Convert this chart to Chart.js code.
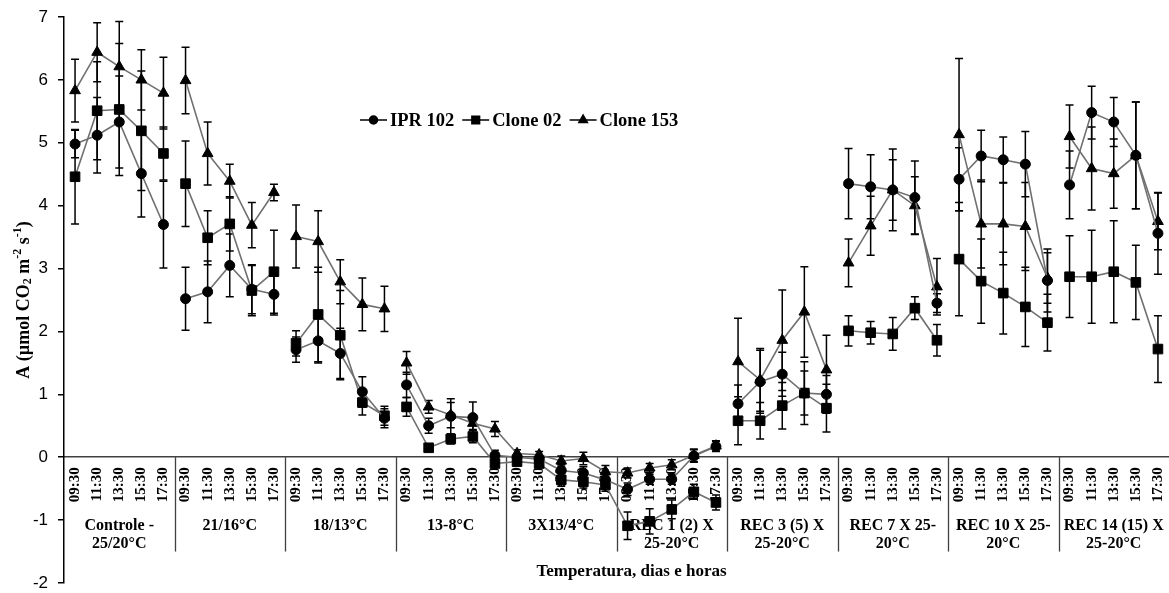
<!DOCTYPE html>
<html><head><meta charset="utf-8">
<script src="https://cdn.jsdelivr.net/npm/chart.js@4"></script>
<style>html,body{margin:0;padding:0;background:#fff;overflow:hidden}</style>
</head><body>
<canvas id="c" width="1169" height="593"></canvas>
<script>
const timeLabels = ['09:30','11:30','13:30','15:30','17:30'];
const groupLabels = [
  ['Controle -','25/20°C'], ['21/16°C'], ['18/13°C'], ['13-8°C'], ['3X13/4°C'],
  ['REC 1 (2) X','25-20°C'], ['REC 3 (5) X','25-20°C'], ['REC 7 X 25-','20°C'],
  ['REC 10 X 25-','20°C'], ['REC 14 (15) X','25-20°C']
];
const yTicks = [-2,-1,0,1,2,3,4,5,6,7];
const seriesNames = ['IPR 102','Clone 02','Clone 153'];
// line is interrupted after these point indices
const lineBreaksAfter = [4, 9, 14, 29, 34, 39, 44];

const ipr102 = [
  4.98, 5.12, 5.33, 4.51, 3.70,
  2.52, 2.63, 3.05, 2.67, 2.59,
  1.71, 1.85, 1.65, 1.04, 0.62,
  1.15, 0.50, 0.65, 0.63, 0.03,
  0.00, -0.03, -0.21, -0.25, -0.36,
  -0.51, -0.35, -0.35, 0.02, 0.17,
  0.85, 1.20, 1.32, 1.02, 1.00,
  4.35, 4.30, 4.25, 4.13, 2.45,
  4.42, 4.79, 4.73, 4.66, 2.81,
  4.33, 5.48, 5.33, 4.80, 3.56
];
const ipr102Err = [
  0.22, 0.60, 0.73, 0.69, 0.69,
  0.50, 0.49, 0.50, 0.39, 0.33,
  0.20, 0.35, 0.40, 0.24, 0.15,
  0.20, 0.12, 0.28, 0.25, 0.08,
  0.05, 0.05, 0.10, 0.10, 0.08,
  0.10, 0.08, 0.08, 0.10, 0.08,
  0.30, 0.50, 0.35, 0.35, 0.30,
  0.56, 0.51, 0.65, 0.58, 0.15,
  0.50, 0.41, 0.36, 0.52, 0.50,
  0.54, 0.42, 0.39, 0.85, 0.65
];
const clone02 = [
  4.46, 5.51, 5.53, 5.19, 4.83,
  4.35, 3.49, 3.71, 2.65, 2.95,
  1.81, 2.27, 1.94, 0.87, 0.66,
  0.80, 0.15, 0.29, 0.33, -0.10,
  -0.07, -0.10, -0.36, -0.39, -0.44,
  -1.09, -1.02, -0.83, -0.55, -0.72,
  0.58, 0.58, 0.82, 1.02, 0.78,
  2.01, 1.98, 1.96, 2.37, 1.86,
  3.15, 2.80, 2.61, 2.39, 2.14,
  2.87, 2.87, 2.95, 2.78, 1.72
];
const clone02Err = [
  0.75, 0.78, 1.05, 0.95, 0.42,
  0.68, 0.43, 0.43, 0.40, 0.66,
  0.20, 0.75, 0.71, 0.20, 0.15,
  0.15, 0.06, 0.08, 0.10, 0.05,
  0.05, 0.06, 0.10, 0.10, 0.10,
  0.22, 0.20, 0.15, 0.12, 0.12,
  0.38, 0.29, 0.37, 0.50, 0.38,
  0.24, 0.18, 0.26, 0.18, 0.25,
  0.90, 0.67, 0.65, 0.63, 0.45,
  0.65, 0.74, 0.81, 0.59, 0.53
];
const clone153 = [
  5.83, 6.44, 6.21, 6.00, 5.79,
  5.99, 4.83, 4.39, 3.69, 4.21,
  3.51, 3.43, 2.79, 2.43, 2.36,
  1.50, 0.80, 0.67, 0.54, 0.45,
  0.06, 0.04, -0.06, -0.02, -0.23,
  -0.25, -0.17, -0.12, 0.03, 0.18,
  1.52, 1.23, 1.86, 2.31, 1.39,
  3.09, 3.68, 4.25, 4.00, 2.71,
  5.13, 3.71, 3.71, 3.67, 2.85,
  5.10, 4.59, 4.51, 4.80, 3.75
];
const clone153Err = [
  0.50, 0.47, 0.72, 0.48, 0.57,
  0.53, 0.50, 0.27, 0.36, 0.13,
  0.50, 0.49, 0.35, 0.42, 0.36,
  0.18, 0.10, 0.20, 0.10, 0.12,
  0.06, 0.05, 0.08, 0.10, 0.10,
  0.08, 0.07, 0.08, 0.10, 0.08,
  0.69, 0.50, 0.80, 0.72, 0.55,
  0.38, 0.47, 0.48, 0.46, 0.45,
  1.21, 0.70, 0.65, 0.70, 0.40,
  0.50, 0.66, 0.55, 0.85, 0.45
];

const labels = [];
groupLabels.forEach(() => timeLabels.forEach(t => labels.push(t)));

const LINE = '#707070';
const SERIF = '"Liberation Serif", "Times New Roman", serif';
const segColor = ctx => lineBreaksAfter.includes(ctx.p0DataIndex) ? 'rgba(0,0,0,0)' : LINE;

function mkDs(label, data, err, style, r) {
  return {
    label, data, errors: err,
    borderColor: LINE, borderWidth: 1.6, tension: 0,
    pointStyle: style, pointRadius: r, pointHoverRadius: r,
    pointBackgroundColor: '#000', pointBorderColor: '#000', pointBorderWidth: 1,
    segment: { borderColor: segColor }
  };
}

const decor = {
  id: 'decor',
  beforeDatasetsDraw(chart) {
    const {ctx, scales: {x, y}} = chart;
    const y0 = y.getPixelForValue(0);
    const yb = y.getPixelForValue(-1.5);
    ctx.save();
    // group separators
    ctx.strokeStyle = '#404040'; ctx.lineWidth = 1.3;
    for (let g = 1; g < groupLabels.length; g++) {
      const xs = (x.getPixelForValue(g*5-1) + x.getPixelForValue(g*5)) / 2;
      ctx.beginPath(); ctx.moveTo(Math.round(xs)+0.5, y0); ctx.lineTo(Math.round(xs)+0.5, yb); ctx.stroke();
    }
    // group labels
    ctx.fillStyle = '#000';
    ctx.font = 'bold 16px ' + SERIF;
    ctx.textAlign = 'center'; ctx.textBaseline = 'middle';
    groupLabels.forEach((lines, g) => {
      const xc = (x.getPixelForValue(g*5) + x.getPixelForValue(g*5+4)) / 2;
      lines.forEach((t, k) => ctx.fillText(t, xc, y0 + 69 + k*18));
    });
    // error bars
    ctx.strokeStyle = '#000'; ctx.lineWidth = 1.5;
    chart.data.datasets.forEach((ds, di) => {
      const meta = chart.getDatasetMeta(di);
      ds.data.forEach((v, i) => {
        const e = ds.errors[i];
        const px = meta.data[i].x;
        const t = y.getPixelForValue(v + e), b = y.getPixelForValue(v - e);
        ctx.beginPath();
        ctx.moveTo(px, t); ctx.lineTo(px, b);
        ctx.moveTo(px-4, t); ctx.lineTo(px+4, t);
        ctx.moveTo(px-4, b); ctx.lineTo(px+4, b);
        ctx.stroke();
      });
    });
    ctx.restore();
  },
  afterDraw(chart) {
    const {ctx, chartArea} = chart;
    ctx.save();
    // legend
    ctx.font = 'bold 18.5px ' + SERIF;
    ctx.textBaseline = 'middle'; ctx.textAlign = 'left';
    let lx = 360; const ly = 120;
    chart.data.datasets.forEach(ds => {
      ctx.strokeStyle = '#000'; ctx.lineWidth = 1.5;
      ctx.beginPath(); ctx.moveTo(lx, ly); ctx.lineTo(lx+27, ly); ctx.stroke();
      ctx.fillStyle = '#000';
      Chart.helpers.drawPoint(ctx, {pointStyle: ds.pointStyle, radius: ds.pointRadius*0.8, rotation: 0, borderWidth: 1}, lx+13.5, ly);
      ctx.fillStyle = '#000';
      ctx.fillText(ds.label, lx+30, ly+1);
      lx += 30 + ctx.measureText(ds.label).width + 8;
    });
    // x title
    ctx.font = 'bold 17px ' + SERIF; ctx.textAlign = 'center';
    ctx.fillText('Temperatura, dias e horas', (chartArea.left+chartArea.right)/2 + 15, 572);
    // y title with sub/superscripts
    const parts = [
      ['A (µmol CO', 0, 18], ['2', 4, 12], [' m', 0, 18], ['-2', -6, 12],
      [' s', 0, 18], ['-1', -6, 12], [')', 0, 18]
    ];
    let total = 0;
    parts.forEach(p => { ctx.font = 'bold ' + p[2] + 'px ' + SERIF; total += ctx.measureText(p[0]).width; });
    ctx.translate(24, (chartArea.top + chartArea.bottom)/2);
    ctx.rotate(-Math.PI/2);
    ctx.textAlign = 'left';
    let tx = -total/2;
    parts.forEach(p => {
      ctx.font = 'bold ' + p[2] + 'px ' + SERIF;
      ctx.fillText(p[0], tx, p[1]);
      tx += ctx.measureText(p[0]).width;
    });
    ctx.restore();
  }
};

new Chart(document.getElementById('c'), {
  type: 'line',
  data: {
    labels,
    datasets: [
      mkDs(seriesNames[0], ipr102, ipr102Err, 'circle', 5),
      mkDs(seriesNames[1], clone02, clone02Err, 'rect', 6.8),
      mkDs(seriesNames[2], clone153, clone153Err, 'triangle', 6.2)
    ]
  },
  options: {
    responsive: false, animation: false, devicePixelRatio: 1,
    layout: { autoPadding: false, padding: { top: 17, bottom: 10, left: 0, right: 0 } },
    plugins: { legend: { display: false }, tooltip: { enabled: false } },
    scales: {
      x: {
        type: 'category', position: { y: 0 }, offset: true,
        afterFit: s => { s.paddingLeft = 0; s.paddingRight = 0; },
        grid: { display: false, drawTicks: false },
        border: { display: true, color: '#404040', width: 1.5 },
        ticks: { autoSkip: false, minRotation: 90, maxRotation: 90, padding: 10, color: '#000',
                 font: { family: SERIF, weight: 'bold', size: 15 } }
      },
      y: {
        min: -2, max: 7,
        afterBuildTicks: s => { s.ticks = yTicks.map(v => ({ value: v })); },
        afterFit: s => { s.width = 64; s.paddingTop = 0; s.paddingBottom = 0; },
        ticks: { color: '#000', padding: 10, font: { family: '"Liberation Sans", Arial, sans-serif', size: 17 } },
        grid: { drawOnChartArea: false, drawTicks: true, tickLength: 6, color: '#000', lineWidth: 1.5 },
        border: { color: '#000', width: 1.5 }
      }
    }
  },
  plugins: [decor]
});
</script>
</body></html>
